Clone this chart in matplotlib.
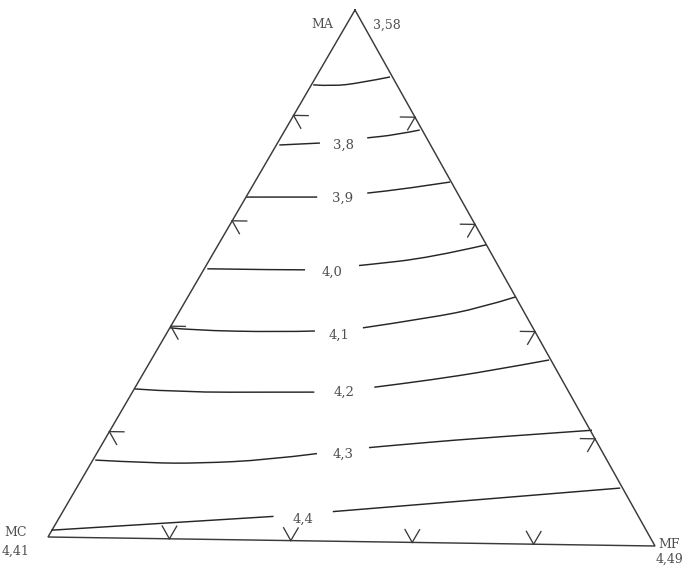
import numpy as np
import matplotlib
matplotlib.use("Agg")
import matplotlib.pyplot as plt
from matplotlib.path import Path
from matplotlib.patches import PathPatch

# ---------------- data ----------------
corner_names = ["MA", "MC", "MF"]
corner_values = ["3,58", "4,41", "4,49"]

# contour lines given as compositions: fraction of MA and fraction of MF (MC = rest)
c37_ma = [0.858, 0.856, 0.863, 0.875]
c37_mf = [0.003, 0.036, 0.078, 0.121]

c38_ma = [0.744, 0.749, 0.760, 0.766, 0.776]
c38_mf = [0.006, 0.073, 0.143, 0.184, 0.220]

c39_ma = [0.645, 0.647, 0.656, 0.665, 0.679]
c39_mf = [0.000, 0.116, 0.195, 0.252, 0.319]

c40_ma = [0.509, 0.509, 0.510, 0.521, 0.536, 0.562]
c40_mf = [0.005, 0.125, 0.177, 0.262, 0.358, 0.438]

c41_ma = [0.397, 0.393, 0.392, 0.395, 0.402, 0.423, 0.443, 0.465]
c41_mf = [0.000, 0.035, 0.184, 0.240, 0.314, 0.416, 0.488, 0.536]

c42_ma = [0.281, 0.276, 0.279, 0.280, 0.291, 0.306, 0.325, 0.347]
c42_mf = [0.001, 0.078, 0.241, 0.298, 0.391, 0.475, 0.564, 0.650]

c43_ma = [0.146, 0.142, 0.143, 0.151, 0.166, 0.178, 0.189, 0.198, 0.216]
c43_mf = [0.004, 0.096, 0.178, 0.284, 0.369, 0.445, 0.534, 0.611, 0.787]

c44_ma = [0.013, 0.046, 0.057, 0.108]
c44_mf = [0.000, 0.359, 0.452, 0.888]

contour_labels = [None, "3,8", "3,9", "4,0", "4,1", "4,2", "4,3", "4,4"]
label_ma = [None, 0.746, 0.646, 0.506, 0.388, 0.281, 0.164, 0.041]
label_mf = [None, 0.109, 0.158, 0.212, 0.283, 0.346, 0.403, 0.399]

tick_fractions = [0.2, 0.4, 0.6, 0.8]

# ---------------- layout ----------------
W, H = 690, 570
V_MA = np.array([355.0, 10.0])
V_MC = np.array([48.0, 537.0])
V_MF = np.array([655.0, 546.0])

EDGE_COLOR = "#3a3a3a"
LINE_COLOR = "#262626"
TEXT_COLOR = "#505050"
FONT = ["DejaVu Serif"]


def tern(ma, mf):
    ma = np.asarray(ma, dtype=float)
    mf = np.asarray(mf, dtype=float)
    mc = 1.0 - ma - mf
    x = mc * V_MC[0] + mf * V_MF[0] + ma * V_MA[0]
    y = mc * V_MC[1] + mf * V_MF[1] + ma * V_MA[1]
    return x, y


def smooth_line(ax, x, y, **kw):
    """Draw a smooth curve using the points as quadratic Bezier controls."""
    pts = np.column_stack([x, y])
    if len(pts) <= 2:
        ax.plot(pts[:, 0], pts[:, 1], **kw)
        return
    verts = [pts[0]]
    codes = [Path.MOVETO]
    for i in range(1, len(pts) - 1):
        end = pts[i + 1] if i == len(pts) - 2 else (pts[i] + pts[i + 1]) / 2
        verts += [pts[i], end]
        codes += [Path.CURVE3, Path.CURVE3]
    ax.add_patch(PathPatch(Path(verts, codes), fill=False,
                           edgecolor=kw.get("color"), lw=kw.get("lw", 1.0),
                           capstyle="butt"))


fig = plt.figure(figsize=(W / 100, H / 100), dpi=100)
ax = fig.add_axes([0, 0, 1, 1])
ax.set_xlim(0, W)
ax.set_ylim(H, 0)
ax.axis("off")

# triangle
tx, ty = tern([1, 0, 0, 1], [0, 0, 1, 0])
ax.plot(tx, ty, color=EDGE_COLOR, lw=1.05, solid_joinstyle="miter")

# ticks (stubs of the grid lines, pointing into the triangle)
d = 0.024
for t in tick_fractions:
    # left edge (MF = 0)
    for (ma2, mf2) in [(t, d), (t - d, d)]:
        x, y = tern([t, ma2], [0, mf2])
        ax.plot(x, y, color=EDGE_COLOR, lw=0.95)
    # right edge (MC = 0)
    for (ma2, mf2) in [(t, 1 - t - d), (t - d, 1 - t)]:
        x, y = tern([t, ma2], [1 - t, mf2])
        ax.plot(x, y, color=EDGE_COLOR, lw=0.95)
    # bottom edge (MA = 0)
    for (ma2, mf2) in [(d, t - d), (d, t)]:
        x, y = tern([0, ma2], [t, mf2])
        ax.plot(x, y, color=EDGE_COLOR, lw=0.95)

# contour lines with label gaps
contours = [(c37_ma, c37_mf), (c38_ma, c38_mf), (c39_ma, c39_mf), (c40_ma, c40_mf),
            (c41_ma, c41_mf), (c42_ma, c42_mf), (c43_ma, c43_mf), (c44_ma, c44_mf)]
gaps = [0, 24, 25, 27, 24, 30, 26, 30]

for (cma, cmf), lab, lma, lmf, g in zip(contours, contour_labels, label_ma, label_mf, gaps):
    x, y = tern(cma, cmf)
    if lab is None:
        smooth_line(ax, x, y, color=LINE_COLOR, lw=1.05)
        continue
    lx, ly = tern(lma, lmf)
    lx = float(lx); ly = float(ly)
    xl = lx - g
    xr = lx + g
    yl = np.interp(xl, x, y)
    yr = np.interp(xr, x, y)
    mL = x < xl
    mR = x > xr
    smooth_line(ax, np.r_[x[mL], xl], np.r_[y[mL], yl], color=LINE_COLOR, lw=1.05)
    smooth_line(ax, np.r_[xr, x[mR]], np.r_[yr, y[mR]], color=LINE_COLOR, lw=1.05)
    ax.text(lx, ly, lab, ha="center", va="center", fontsize=9.5,
            color=TEXT_COLOR, family=FONT)

# corner labels
ax.text(V_MA[0] - 22, V_MA[1] + 14, corner_names[0], ha="right", va="center",
        fontsize=9, color=TEXT_COLOR, family=FONT)
ax.text(V_MA[0] + 18, V_MA[1] + 15, corner_values[0], ha="left", va="center",
        fontsize=9, color=TEXT_COLOR, family=FONT)
ax.text(V_MC[0] - 32, V_MC[1] - 4, corner_names[1], ha="center", va="center",
        fontsize=9, color=TEXT_COLOR, family=FONT)
ax.text(V_MC[0] - 32, V_MC[1] + 14, corner_values[1], ha="center", va="center",
        fontsize=9, color=TEXT_COLOR, family=FONT)
ax.text(V_MF[0] + 14, V_MF[1] - 2, corner_names[2], ha="center", va="center",
        fontsize=9, color=TEXT_COLOR, family=FONT)
ax.text(V_MF[0] + 14, V_MF[1] + 13, corner_values[2], ha="center", va="center",
        fontsize=9, color=TEXT_COLOR, family=FONT)

fig.savefig("out.png", dpi=100, facecolor="white")
